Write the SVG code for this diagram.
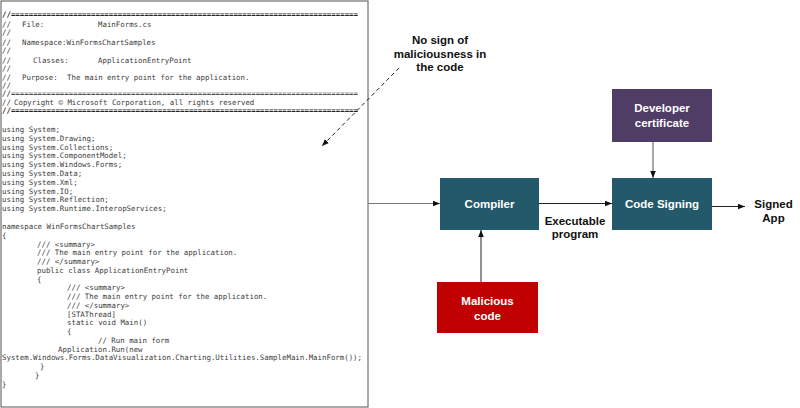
<svg xmlns="http://www.w3.org/2000/svg" width="800" height="408" viewBox="0 0 800 408">
<defs>
<style>
.code{font-family:"DejaVu Sans Mono","Liberation Mono",monospace;font-size:7.4px;fill:#3c3c3c;}
.eq{font-family:"DejaVu Sans Mono","Liberation Mono",monospace;font-size:7.4px;fill:#222;font-weight:bold;}
.lbl{font-family:"Liberation Sans",Arial,sans-serif;font-size:11.5px;font-weight:bold;fill:#111;text-anchor:middle;}
.ntxt{font-family:"Liberation Sans",Arial,sans-serif;font-size:11.5px;font-weight:bold;fill:#fff;text-anchor:middle;}
.conn{fill:none;stroke:#222;stroke-width:1;}
</style>
<marker id="ah" viewBox="0 0 10 10" refX="10" refY="5" markerWidth="7" markerHeight="7" markerUnits="userSpaceOnUse" orient="auto">
<path d="M0,1 L10,5 L0,9 z" fill="#111"/>
</marker>
</defs>
<rect width="800" height="408" fill="#fff"/>

<g id="code-listing">
<rect x="1" y="1" width="367" height="406" fill="#fff" stroke="#555" stroke-width="1"/>
<text class="eq" x="2" y="17" textLength="356" lengthAdjust="spacing">//==============================================================================</text>
<text class="code" x="2" y="26.5">//</text>
<text class="code" x="22" y="26.5">File:</text>
<text class="code" x="98" y="26.5">MainForms.cs</text>
<text class="code" x="2" y="34.5">//</text>
<text class="code" x="2" y="44.5">//</text>
<text class="code" x="22" y="44.5">Namespace:WinFormsChartSamples</text>
<text class="code" x="2" y="52.5">//</text>
<text class="code" x="2" y="62.5">//</text>
<text class="code" x="33" y="62.5">Classes:</text>
<text class="code" x="98" y="62.5">ApplicationEntryPoint</text>
<text class="code" x="2" y="70.5">//</text>
<text class="code" x="2" y="79.5">//</text>
<text class="code" x="22" y="79.5">Purpose:</text>
<text class="code" x="67" y="79.5">The main entry point for the application.</text>
<text class="code" x="2" y="87.5">//</text>
<text class="eq" x="2" y="96" textLength="356" lengthAdjust="spacing" style="font-weight:normal">//==============================================================================</text>
<text class="code" x="2" y="104.5">//</text>
<text class="code" x="14" y="104.5">Copyright © Microsoft Corporation, all rights reserved</text>
<text class="eq" x="2" y="113" textLength="356" lengthAdjust="spacing">//==============================================================================</text>

<text class="code" x="2" y="132">using System;</text>
<text class="code" x="2" y="140.8">using System.Drawing;</text>
<text class="code" x="2" y="149.6">using System.Collections;</text>
<text class="code" x="2" y="158.4">using System.ComponentModel;</text>
<text class="code" x="2" y="167.2">using System.Windows.Forms;</text>
<text class="code" x="2" y="176">using System.Data;</text>
<text class="code" x="2" y="184.8">using System.Xml;</text>
<text class="code" x="2" y="193.6">using System.IO;</text>
<text class="code" x="2" y="202.4">using System.Reflection;</text>
<text class="code" x="2" y="211.2">using System.Runtime.InteropServices;</text>

<text class="code" x="2" y="229">namespace WinFormsChartSamples</text>
<text class="code" x="2" y="237.75">{</text>
<text class="code" x="37" y="246.5">/// &lt;summary&gt;</text>
<text class="code" x="37" y="255.25">/// The main entry point for the application.</text>
<text class="code" x="37" y="264">/// &lt;/summary&gt;</text>
<text class="code" x="37" y="272.75">public class ApplicationEntryPoint</text>
<text class="code" x="37" y="281.5">{</text>
<text class="code" x="67" y="290.25">/// &lt;summary&gt;</text>
<text class="code" x="67" y="299">/// The main entry point for the application.</text>
<text class="code" x="67" y="307.75">/// &lt;/summary&gt;</text>
<text class="code" x="67" y="316.5">[STAThread]</text>
<text class="code" x="67" y="325.25">static void Main()</text>
<text class="code" x="67" y="334">{</text>
<text class="code" x="98" y="342.75">// Run main form</text>
<text class="code" x="58" y="351.5">Application.Run(new</text>
<text class="code" x="2" y="360.25" textLength="360" lengthAdjust="spacing">System.Windows.Forms.DataVisualization.Charting.Utilities.SampleMain.MainForm());</text>
<text class="code" x="40" y="369">}</text>
<text class="code" x="35" y="377.75">}</text>
<text class="code" x="2" y="386.5">}</text>
</g>

<g id="note">
<text class="lbl" x="440" y="43.5">No sign of</text>
<text class="lbl" x="440" y="57.5">maliciousness in</text>
<text class="lbl" x="440" y="71">the code</text>
</g>

<g id="compiler">
<rect x="440" y="178" width="99" height="52" fill="#23596a"/>
<text class="ntxt" x="489.5" y="208">Compiler</text>
</g>

<g id="code-signing">
<rect x="612" y="178" width="100" height="52" fill="#23596a"/>
<text class="ntxt" x="662" y="208">Code Signing</text>
</g>

<g id="developer-certificate">
<rect x="612" y="89" width="100" height="53" fill="#4f3d66"/>
<text class="ntxt" x="662" y="112">Developer</text>
<text class="ntxt" x="662" y="127">certificate</text>
</g>

<g id="malicious-code">
<rect x="437" y="282" width="101" height="51" fill="#c00000"/>
<text class="ntxt" x="487.5" y="305">Malicious</text>
<text class="ntxt" x="487.5" y="319.5">code</text>
</g>

<g id="executable-label">
<text class="lbl" x="575" y="225">Executable</text>
<text class="lbl" x="575" y="238">program</text>
</g>

<g id="signed-app">
<text class="lbl" x="773.5" y="208">Signed</text>
<text class="lbl" x="773.5" y="222">App</text>
</g>

<g id="connectors">
<line class="conn" x1="399" y1="68" x2="322" y2="146" stroke-dasharray="4,3" marker-end="url(#ah)"/>
<line class="conn" x1="368" y1="203.5" x2="440" y2="203.5" style="stroke:#777" marker-end="url(#ah)"/>
<line class="conn" x1="539" y1="203.5" x2="612" y2="203.5" marker-end="url(#ah)"/>
<line class="conn" x1="712" y1="206.5" x2="745" y2="206.5" marker-end="url(#ah)"/>
<line class="conn" x1="653" y1="142" x2="653" y2="178" style="stroke:#555" marker-end="url(#ah)"/>
<line class="conn" x1="481" y1="282" x2="481" y2="230" marker-end="url(#ah)"/>
</g>
</svg>
